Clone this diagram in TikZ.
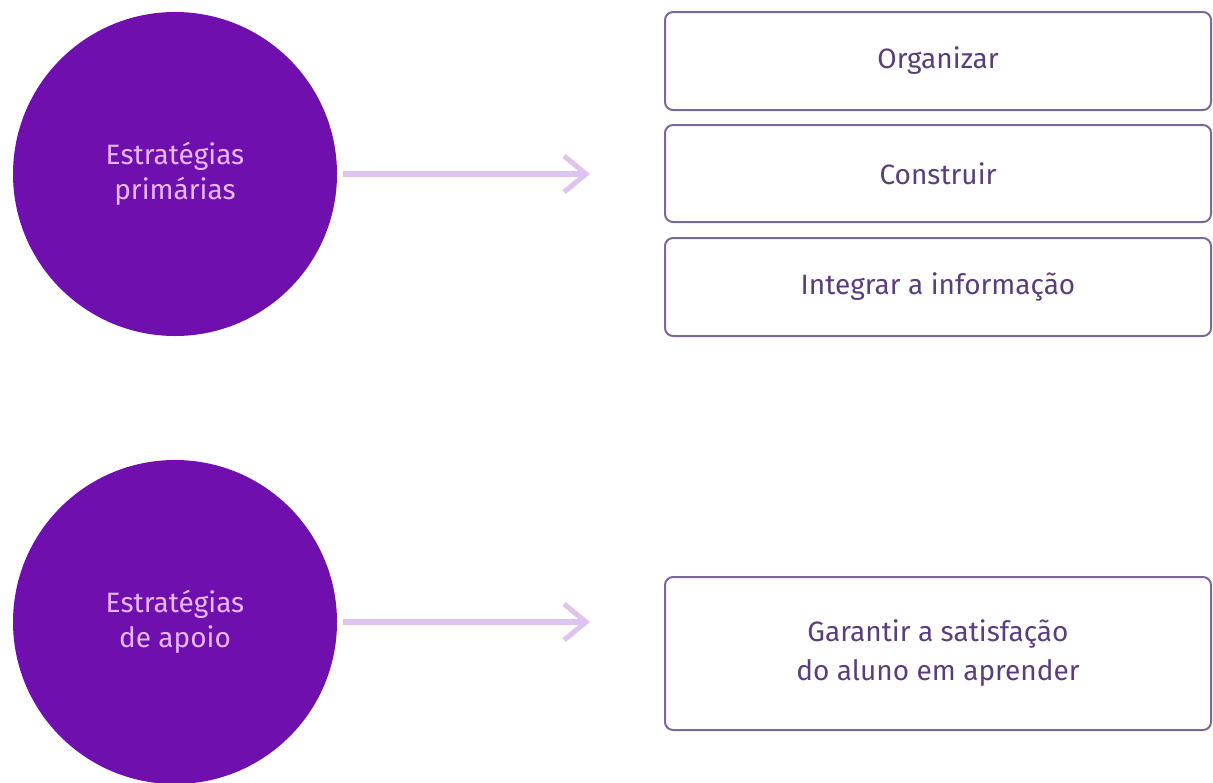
\documentclass[tikz,border=0pt]{standalone}
\usepackage{fontspec}
\setmainfont{Fira Sans}
\usetikzlibrary{arrows.meta}
\definecolor{roxo}{HTML}{6F10AE}
\definecolor{rosa}{HTML}{E6B8F2}
\definecolor{lilas}{HTML}{DDC3EE}
\definecolor{borda}{HTML}{7C6896}
\definecolor{texto}{HTML}{5A3E7C}
\begin{document}
\begin{tikzpicture}[x=0.5pt, y=-0.5pt,
    estrategia/.style={circle, fill=roxo, minimum size=162pt, inner sep=0pt, text=rosa, align=center, font=\fontsize{14}{17.5}\selectfont},
    caixa/.style={draw=borda, line width=1pt, rounded corners=4pt, minimum width=273pt, text=texto, align=center, font=\fontsize{14}{19.5}\selectfont},
    seta/.style={draw=lilas, line width=2.7pt, -{Straight Barb[length=11pt, width=18pt, line width=2.5pt]}, shorten <=3pt}]
    \useasboundingbox (0,0) rectangle (1213,782);

    % Nodes
    \node[estrategia] (prim) at (175,174) {Estratégias\\primárias};
    \node[estrategia] (apoio) at (175,622) {Estratégias\\de apoio};

    \node[caixa, minimum height=49pt] (org) at (938,61) {Organizar};
    \node[caixa, minimum height=48.5pt] (cons) at (938,173.5) {Construir};
    \node[caixa, minimum height=49pt] (integ) at (938,287) {Integrar a informação};
    \node[caixa, minimum height=76.5pt] (sat) at (938,653.5) {Garantir a satisfação\\do aluno em aprender};

    \coordinate (fimA) at (590,174);
    \coordinate (fimB) at (590,622);

    % Arrows
    \draw[seta] (prim) -- (fimA);
    \draw[seta] (apoio) -- (fimB);

\end{tikzpicture}
\end{document}
